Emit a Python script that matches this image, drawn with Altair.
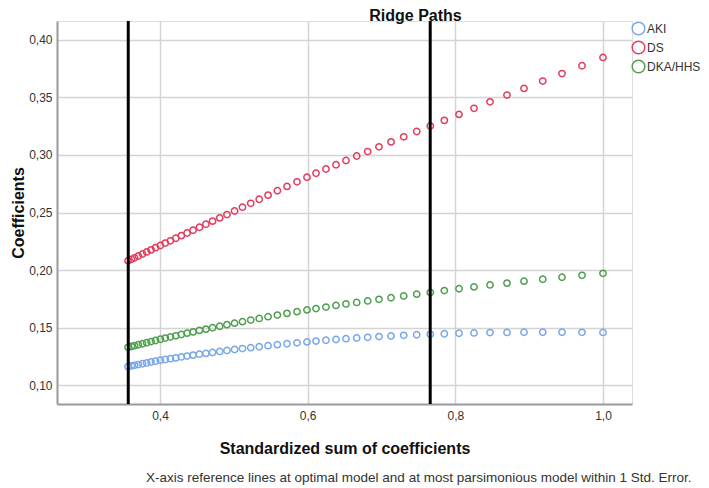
import altair as alt
import pandas as pd

# ---- data ----
x_vals = [0.3567, 0.3614, 0.3655, 0.3707, 0.3763, 0.3820, 0.3879, 0.3940, 0.4005, 0.4072,
          0.4141, 0.4214, 0.4289, 0.4367, 0.4448, 0.4534, 0.4622, 0.4712, 0.4809, 0.4907,
          0.5010, 0.5117, 0.5229, 0.5344, 0.5464, 0.5590, 0.5720, 0.5856, 0.5991, 0.6113,
          0.6248, 0.6384, 0.6519, 0.6664, 0.6813, 0.6966, 0.7129, 0.7301, 0.7477, 0.7661,
          0.7851, 0.8050, 0.8253, 0.8470, 0.8700, 0.8930, 0.9184, 0.9445, 0.9716, 1.0000]
aki = [0.1160, 0.1166, 0.1171, 0.1178, 0.1185, 0.1192, 0.1200, 0.1207, 0.1216, 0.1222,
       0.1229, 0.1236, 0.1244, 0.1252, 0.1260, 0.1268, 0.1275, 0.1283, 0.1292, 0.1300,
       0.1309, 0.1317, 0.1325, 0.1333, 0.1342, 0.1351, 0.1359, 0.1367, 0.1375, 0.1382,
       0.1389, 0.1396, 0.1403, 0.1409, 0.1415, 0.1421, 0.1426, 0.1432, 0.1437, 0.1442,
       0.1446, 0.1450, 0.1453, 0.1456, 0.1457, 0.1459, 0.1459, 0.1459, 0.1458, 0.1457]
ds = [0.2080, 0.2093, 0.2106, 0.2122, 0.2139, 0.2157, 0.2175, 0.2194, 0.2213, 0.2234,
      0.2254, 0.2276, 0.2299, 0.2322, 0.2346, 0.2372, 0.2398, 0.2425, 0.2453, 0.2482,
      0.2513, 0.2546, 0.2580, 0.2615, 0.2651, 0.2689, 0.2727, 0.2767, 0.2807, 0.2841,
      0.2878, 0.2915, 0.2952, 0.2991, 0.3030, 0.3071, 0.3114, 0.3158, 0.3204, 0.3252,
      0.3301, 0.3353, 0.3406, 0.3462, 0.3521, 0.3579, 0.3643, 0.3708, 0.3776, 0.3848]
dka = [0.1328, 0.1335, 0.1342, 0.1350, 0.1359, 0.1368, 0.1378, 0.1387, 0.1398, 0.1408,
       0.1418, 0.1428, 0.1439, 0.1451, 0.1462, 0.1475, 0.1486, 0.1498, 0.1511, 0.1525,
       0.1538, 0.1551, 0.1565, 0.1579, 0.1594, 0.1608, 0.1623, 0.1638, 0.1653, 0.1665,
       0.1678, 0.1692, 0.1705, 0.1718, 0.1731, 0.1745, 0.1759, 0.1774, 0.1790, 0.1805,
       0.1821, 0.1837, 0.1853, 0.1870, 0.1886, 0.1903, 0.1920, 0.1937, 0.1954, 0.1971]

series_names = ["AKI", "DS", "DKA/HHS"]
series_colors = ["#78a6ec", "#e23c5c", "#4e9f4c"]
ref_lines = [0.357, 0.766]
x_ticks = [0.4, 0.6, 0.8, 1.0]
y_ticks = [0.10, 0.15, 0.20, 0.25, 0.30, 0.35, 0.40]

title_text = "Ridge Paths"
note_text = "X-axis reference lines at optimal model and at most parsimonious model within 1 Std. Error."

F = "Liberation Sans"

rows = []
for name, vals in zip(series_names, [aki, ds, dka]):
    for xv, yv in zip(x_vals, vals):
        rows.append({"x": xv, "y": yv, "series": name})
df = pd.DataFrame(rows)

W, H = 575, 383

xscale = alt.Scale(domain=[0.2605, 1.0393], nice=False, zero=False)
yscale = alt.Scale(domain=[0.0835, 0.4165], nice=False, zero=False)

points = alt.Chart(df).mark_point(shape="circle", filled=False, size=40, strokeWidth=1.5, opacity=1).encode(
    x=alt.X("x:Q", scale=xscale,
            axis=alt.Axis(title="Standardized sum of coefficients", values=x_ticks,
                          labelExpr="replace(format(datum.value, '.1f'), '.', ',')",
                          ticks=False, labelPadding=6, grid=True, gridColor="#d4d4d4", gridWidth=1.5,
                          domainColor="#9a9a9a", domainWidth=2,
                          labelFont=F, labelFontSize=12, labelColor="#333333",
                          titleFont=F, titleFontSize=16, titleFontWeight="bold", titleColor="#111111",
                          titleX=287.5, titleY=49, titleBaseline="alphabetic", titleAlign="center")),
    y=alt.Y("y:Q", scale=yscale,
            axis=alt.Axis(title="Coefficients", values=y_ticks,
                          labelExpr="replace(format(datum.value, '.2f'), '.', ',')",
                          ticks=False, labelPadding=5, grid=True, gridColor="#d4d4d4", gridWidth=1.5,
                          domainColor="#9a9a9a", domainWidth=2,
                          labelFont=F, labelFontSize=12, labelColor="#333333",
                          titleFont=F, titleFontSize=16, titleFontWeight="bold", titleColor="#111111",
                          titleX=-34, titleY=191.5, titleAngle=270, titleBaseline="alphabetic",
                          titleAlign="center")),
    color=alt.Color("series:N",
                    scale=alt.Scale(domain=series_names, range=series_colors),
                    sort=series_names,
                    legend=alt.Legend(title=None, orient="none", legendX=574, legendY=0,
                                      symbolType="circle", symbolSize=160, symbolStrokeWidth=1.5,
                                      symbolFillColor="transparent",
                                      labelFont=F, labelFontSize=12, labelColor="#333333",
                                      labelOffset=1, rowPadding=0, padding=0)),
)

rules = alt.Chart(pd.DataFrame({"x": ref_lines})).mark_rule(color="#000000", strokeWidth=3).encode(
    x=alt.X("x:Q", scale=xscale)
)

title_mark = alt.Chart(pd.DataFrame({"t": [title_text]})).mark_text(
    font=F, fontSize=16, fontWeight="bold", color="#111111", align="center", baseline="alphabetic"
).encode(text="t:N", x=alt.value(358.5), y=alt.value(0))

note_mark = alt.Chart(pd.DataFrame({"t": [note_text]})).mark_text(
    font=F, fontSize=13.5, color="#333333", align="left", baseline="alphabetic"
).encode(text="t:N", x=alt.value(89), y=alt.value(461))

chart = alt.layer(points, rules, title_mark, note_mark).properties(
    width=W, height=H,
    autosize=alt.AutoSizeParams(type="none"),
    padding={"left": 49, "top": 13, "right": 69, "bottom": 84},
).configure_view(stroke=None).configure(background="white")

chart.save("out.html", embed_options={"renderer": "svg", "actions": False})
